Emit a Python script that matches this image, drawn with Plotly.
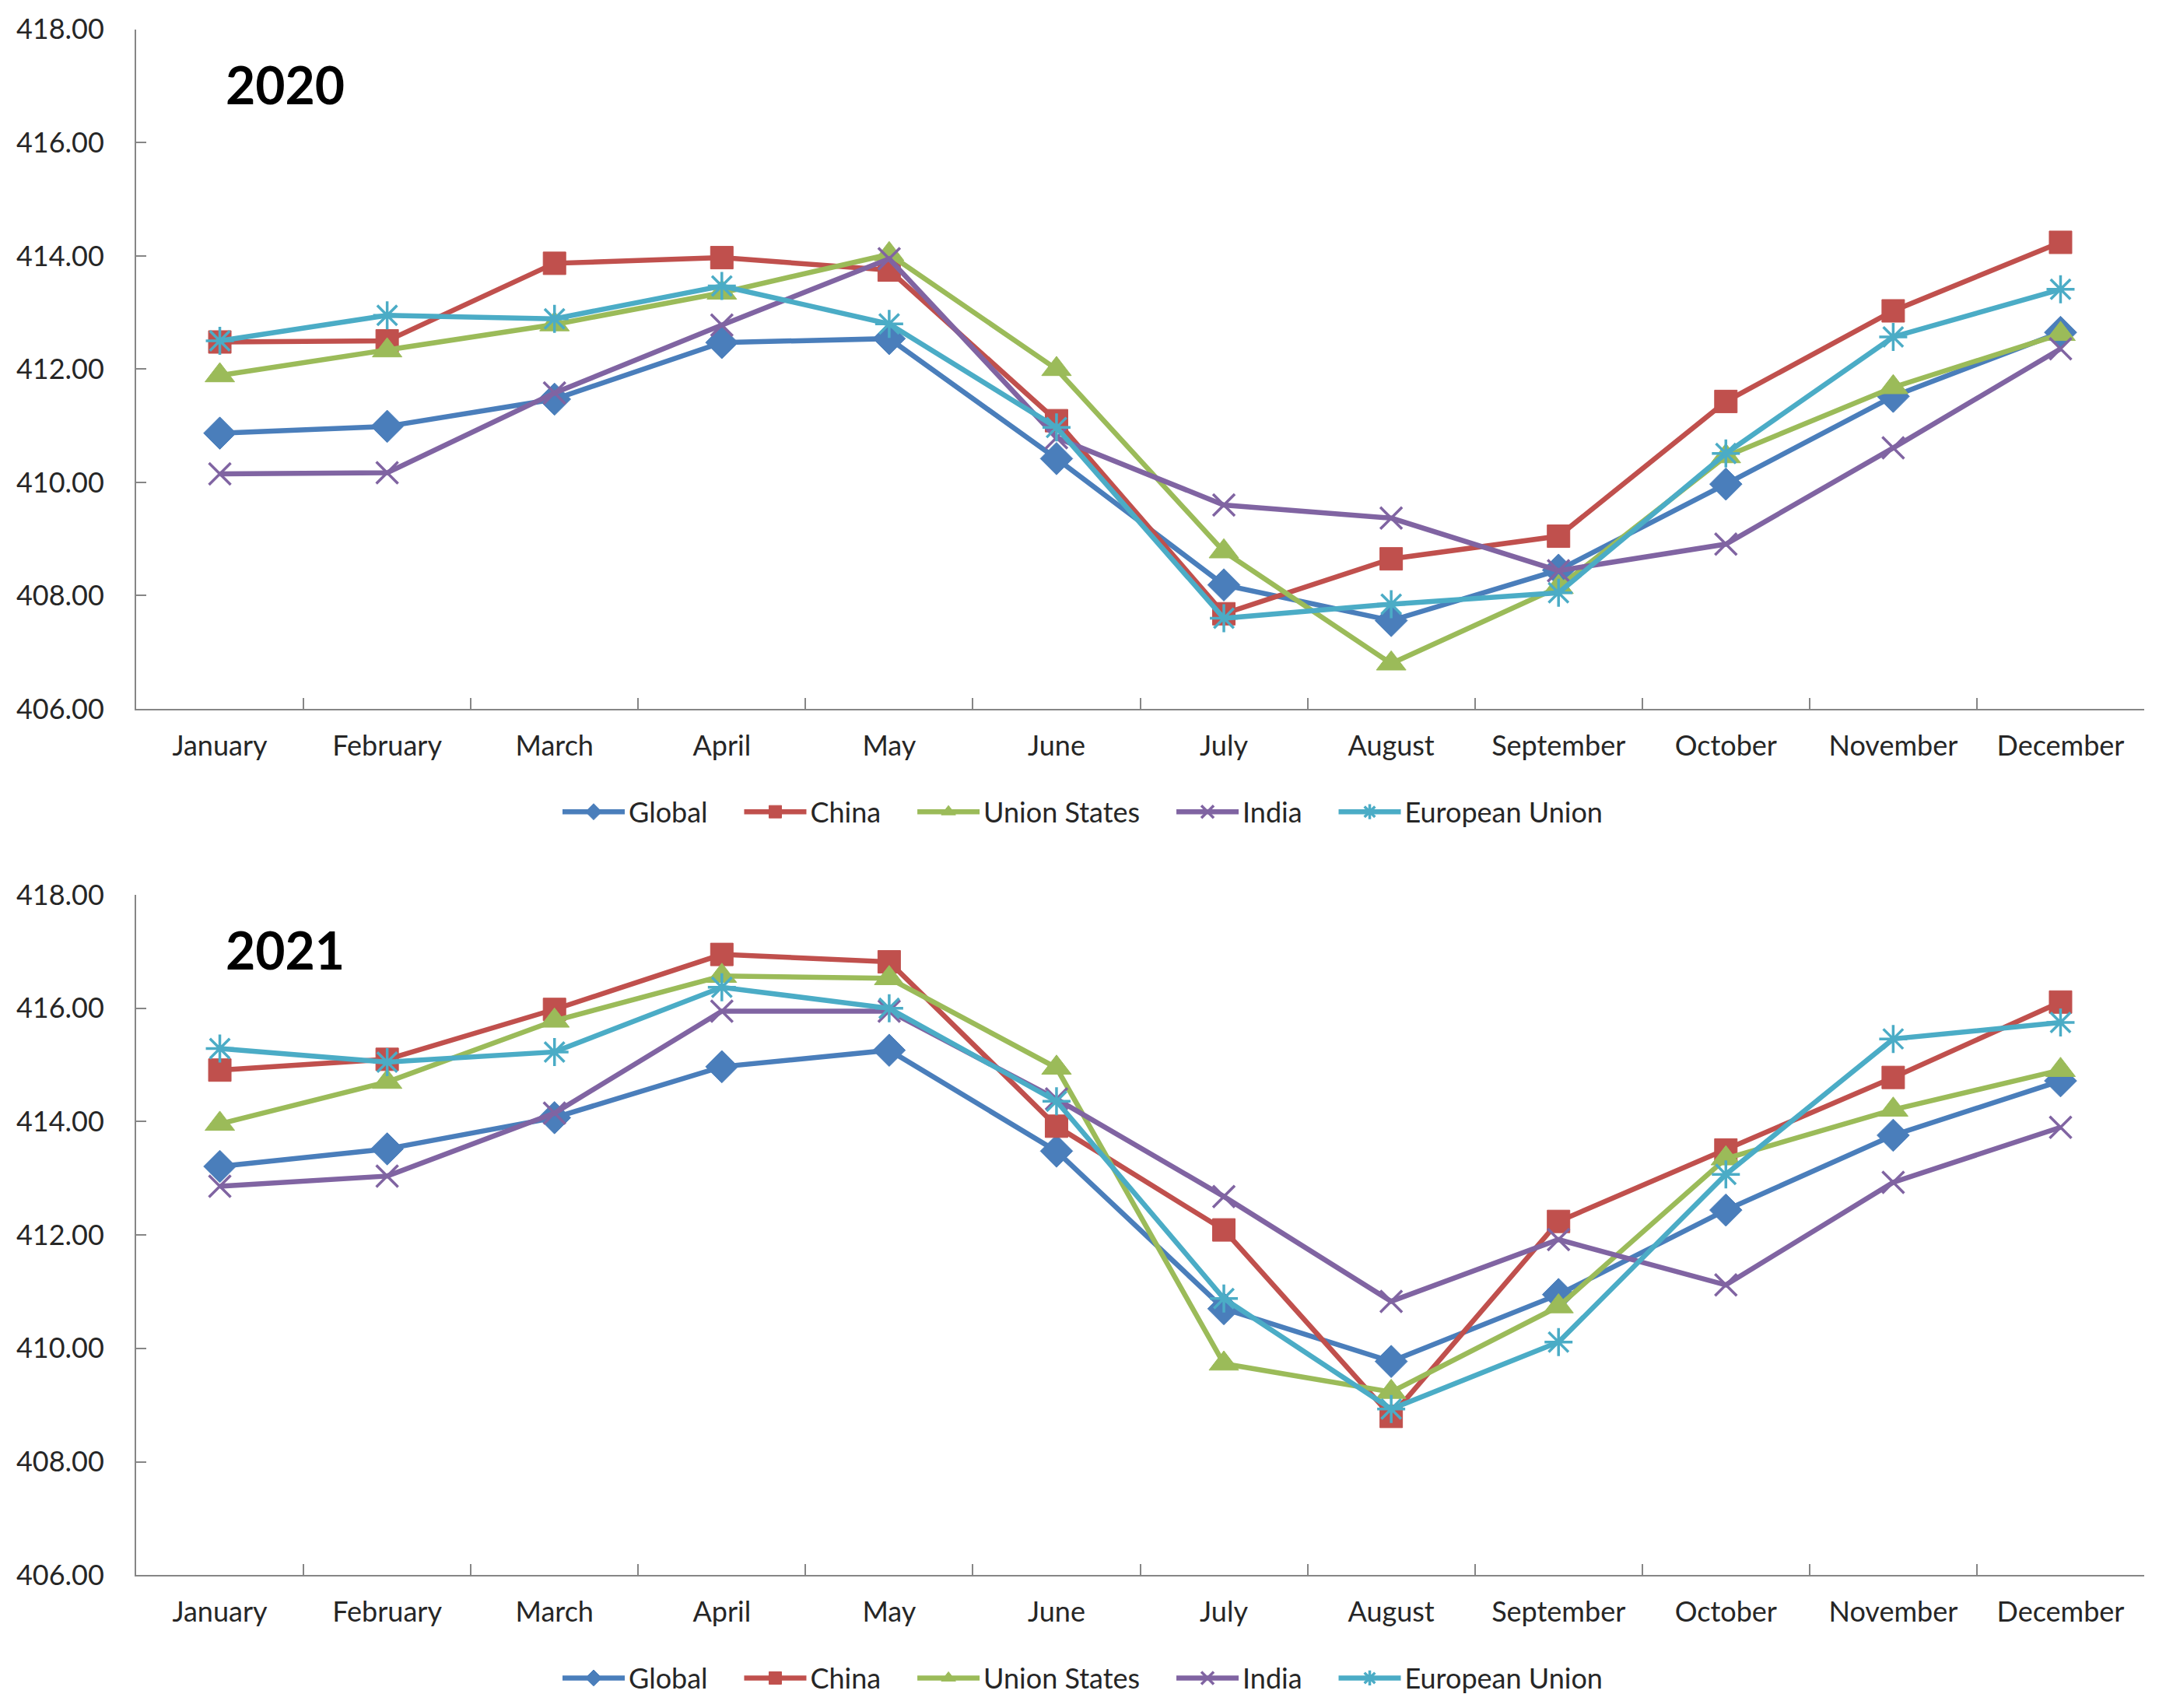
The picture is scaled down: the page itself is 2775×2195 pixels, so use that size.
import plotly.graph_objects as go

months = ["January", "February", "March", "April", "May", "June", "July",
          "August", "September", "October", "November", "December"]
series_names = ["Global", "China", "Union States", "India", "European Union"]

global_2020 = [410.87, 410.99, 411.47, 412.47, 412.54, 410.42, 408.19, 407.56, 408.45, 409.97, 411.52, 412.65]
china_2020 = [412.48, 412.50, 413.87, 413.97, 413.75, 411.09, 407.68, 408.65, 409.05, 411.43, 413.03, 414.24]
us_2020 = [411.89, 412.33, 412.79, 413.35, 414.03, 412.00, 408.78, 406.80, 408.15, 410.46, 411.68, 412.62]
india_2020 = [410.15, 410.17, 411.58, 412.78, 413.95, 410.79, 409.60, 409.37, 408.44, 408.91, 410.61, 412.36]
eu_2020 = [412.50, 412.95, 412.89, 413.47, 412.80, 410.97, 407.60, 407.85, 408.05, 410.51, 412.57, 413.41]

global_2021 = [413.21, 413.52, 414.07, 414.97, 415.26, 413.48, 410.70, 409.77, 410.95, 412.44, 413.76, 414.72]
china_2021 = [414.91, 415.10, 415.98, 416.95, 416.82, 413.92, 412.09, 408.80, 412.24, 413.50, 414.78, 416.11]
us_2021 = [413.96, 414.70, 415.78, 416.57, 416.53, 414.95, 409.73, 409.23, 410.74, 413.35, 414.21, 414.91]
india_2021 = [412.86, 413.04, 414.15, 415.95, 415.95, 414.40, 412.68, 410.83, 411.92, 411.12, 412.93, 413.90]
eu_2021 = [415.29, 415.05, 415.23, 416.37, 416.00, 414.36, 410.88, 408.93, 410.11, 413.07, 415.46, 415.75]

year_labels = ["2020", "2021"]
y_ticks = [406, 408, 410, 412, 414, 416, 418]

colors = ["#4A7EBB", "#C0504D", "#9BBB59", "#8064A2", "#4BACC6"]
symbols = ["diamond", "square", "triangle-up", "x-thin", "asterisk"]
msizes = [32, 29, 33, 28, 30]
mline = [1, 1, 1, 3.5, 3.5]

data_2020 = [global_2020, china_2020, us_2020, india_2020, eu_2020]
data_2021 = [global_2021, china_2021, us_2021, india_2021, eu_2021]

FONT = "Lato"
TXT = "#262626"
AX = "#868686"
PAD = "\u00a0" * 4

fig = go.Figure()

for panel, (dataset, xa, ya, lg) in enumerate([(data_2020, "x", "y", "legend"),
                                               (data_2021, "x2", "y2", "legend2")]):
    for i, name in enumerate(series_names):
        fig.add_trace(go.Scatter(
            x=months, y=dataset[i], name=name + PAD, mode="lines+markers",
            xaxis=xa, yaxis=ya, legend=lg,
            line=dict(color=colors[i], width=6.5),
            marker=dict(symbol=symbols[i], size=msizes[i], color=colors[i],
                        line=dict(color=colors[i], width=mline[i])),
        ))

H = 2195
W = 2775
L, R = 167, 27
plot_w = W - L - R

top_dom = [1 - 898 / H, 1 - 7 / H]
bot_dom = [1 - 2034 / H, 1 - 1142 / H]

xcommon = dict(
    type="category", range=[-0.5, 11.5], tickson="boundaries",
    ticks="inside", ticklen=14, tickwidth=2, tickcolor=AX,
    showline=True, linecolor=AX, linewidth=2, showgrid=False, zeroline=False,
    tickfont=dict(family=FONT, size=36, color=TXT), ticklabelstandoff=15,
)
ycommon = dict(
    range=[406, 418], tickvals=y_ticks, tickformat=".2f",
    ticks="inside", ticklen=13, tickwidth=2, tickcolor=AX,
    showline=True, linecolor=AX, linewidth=2, showgrid=False, zeroline=False,
    tickfont=dict(family=FONT, size=36, color=TXT), ticklabelstandoff=32,
)

legend_common = dict(
    orientation="h", xanchor="center", yanchor="middle",
    font=dict(family=FONT, size=36, color=TXT),
    bgcolor="rgba(0,0,0,0)", itemwidth=80, tracegroupgap=0,
    traceorder="normal",
)

LEG_X = 1402

fig.update_layout(
    width=W, height=H,
    margin=dict(l=L, r=R, t=0, b=0),
    paper_bgcolor="white", plot_bgcolor="white",
    xaxis=dict(domain=[0, 1], anchor="y", **xcommon),
    yaxis=dict(domain=top_dom, anchor="x", **ycommon),
    xaxis2=dict(domain=[0, 1], anchor="y2", **xcommon),
    yaxis2=dict(domain=bot_dom, anchor="x2", **ycommon),
    legend=dict(x=(LEG_X - L) / plot_w, y=1 - 1033 / H, **legend_common),
    legend2=dict(x=(LEG_X - L) / plot_w, y=1 - 2169 / H, **legend_common),
    annotations=[
        dict(text="<b>" + year_labels[0] + "</b>", xref="paper", yref="paper",
             x=(358 - L) / plot_w, y=1 - 79 / H, showarrow=False,
             font=dict(family=FONT, size=66, color="black"),
             xanchor="center", yanchor="middle"),
        dict(text="<b>" + year_labels[1] + "</b>", xref="paper", yref="paper",
             x=(358 - L) / plot_w, y=1 - 1214 / H, showarrow=False,
             font=dict(family=FONT, size=66, color="black"),
             xanchor="center", yanchor="middle"),
    ],
)

fig.write_html("out.html")
